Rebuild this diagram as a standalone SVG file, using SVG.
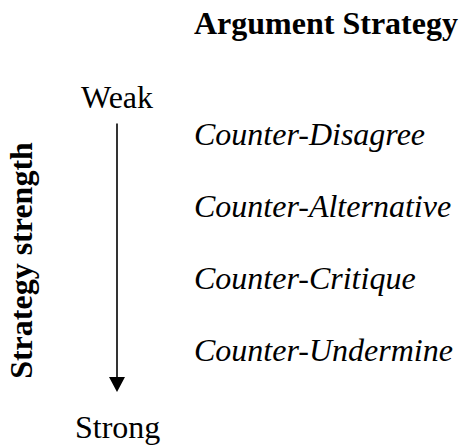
<svg xmlns="http://www.w3.org/2000/svg" width="459" height="445" viewBox="0 0 459 445">
<style>
text{font-family:"Liberation Serif","Times New Roman",serif;font-size:32px;fill:#000}
.b{font-weight:bold}
.i{font-style:italic}
</style>
<defs>
<marker id="ah" markerWidth="16" markerHeight="16" refX="8" refY="15" orient="auto" markerUnits="userSpaceOnUse" viewBox="0 0 16 16">
<path d="M0,0 L16,0 L8,15 Z" fill="#000"/>
</marker>
</defs>
<rect width="459" height="445" fill="#fff"/>
<g id="title"><text class="b" x="194" y="34">Argument Strategy</text></g>
<g id="axis-label"><text class="b" text-anchor="middle" transform="translate(32,260.5) rotate(-90)">Strategy strength</text></g>
<g id="weak"><text x="81" y="108">Weak</text></g>
<g id="strong"><text x="75" y="438">Strong</text></g>
<g id="s1"><text class="i" x="194" y="145">Counter-Disagree</text></g>
<g id="s2"><text class="i" x="194" y="217">Counter-Alternative</text></g>
<g id="s3"><text class="i" x="194" y="289">Counter-Critique</text></g>
<g id="s4"><text class="i" x="194" y="361">Counter-Undermine</text></g>
<g id="connectors">
<path d="M117,123.5 L117,377" stroke="#000" stroke-width="1.6" fill="none"/>
<path d="M109,377 L125,377 L117,392 Z" fill="#000"/>
</g>
</svg>
